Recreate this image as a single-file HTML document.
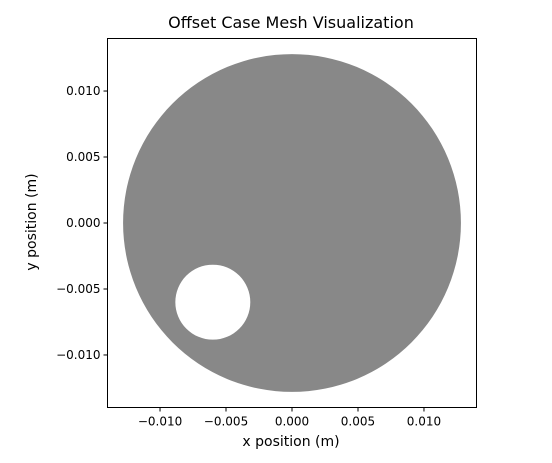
<!DOCTYPE html>
<html><head><meta charset="utf-8"><style>
body{margin:0;background:#fff;}
svg text{font-family:"DejaVu Sans","Liberation Sans",sans-serif;}
</style></head><body>
<svg id="chart" width="552" height="458" xmlns="http://www.w3.org/2000/svg">
<rect width="552" height="458" fill="#fff"/>
<text x="291" y="28" text-anchor="middle" font-size="16">Offset Case Mesh Visualization</text>
<g id="plot"></g>
<rect x="107.5" y="38.5" width="369" height="369" fill="none" stroke="#000" stroke-width="1"/>
<text x="291" y="446" text-anchor="middle" font-size="14">x position (m)</text>
<text x="0" y="0" transform="translate(36,222) rotate(-90)" text-anchor="middle" font-size="14">y position (m)</text>
</svg>
<script>
const xDomain=[-0.01398,0.01398];
const yDomain=[-0.01398,0.01398];
const xTicks=[-0.010,-0.005,0.000,0.005,0.010];
const yTicks=[-0.010,-0.005,0.000,0.005,0.010];
const xTickLabels=["\u22120.010","\u22120.005","0.000","0.005","0.010"];
const yTickLabels=["\u22120.010","\u22120.005","0.000","0.005","0.010"];
const outerCircle=[0,0,0.0128];
const holeCircle=[-0.006,-0.006,0.00284];
const L=107.5,R=476.5,T=38.5,B=407.5;
const sx=v=>L+(v-xDomain[0])/(xDomain[1]-xDomain[0])*(R-L);
const sy=v=>B-(v-yDomain[0])/(yDomain[1]-yDomain[0])*(B-T);
const NS="http://www.w3.org/2000/svg";
const svg=document.getElementById('chart');
const g=document.getElementById('plot');
function mk(t,a,p){const e=document.createElementNS(NS,t);for(const k in a)e.setAttribute(k,a[k]);(p||g).appendChild(e);return e;}
const cx=sx(outerCircle[0]),cy=sy(outerCircle[1]),r=sx(outerCircle[2])-sx(0);
const hx=sx(holeCircle[0]),hy=sy(holeCircle[1]),hr=sx(holeCircle[2])-sx(0);
const d=`M${cx-r},${cy}a${r},${r} 0 1,0 ${2*r},0a${r},${r} 0 1,0 ${-2*r},0Z M${hx-hr},${hy}a${hr},${hr} 0 1,1 ${2*hr},0a${hr},${hr} 0 1,1 ${-2*hr},0Z`;
const mesh=mk('path',{d:d,fill:'#888888','fill-rule':'evenodd'});


xTicks.forEach((v,i)=>{
  const x=sx(v);
  const tk=mk('line',{x1:x,x2:x,y1:B,y2:B+4,stroke:'#000'},svg);
  
  
  const t=mk('text',{x:x,y:B+18,'text-anchor':'middle','font-size':'12'},svg);
  t.textContent=xTickLabels[i];
  
  
});
yTicks.forEach((v,i)=>{
  const y=sy(v);
  const tk=mk('line',{x1:L-4,x2:L,y1:y,y2:y,stroke:'#000'},svg);
  
  
  const t=mk('text',{x:L-7,y:y+4,'text-anchor':'end','font-size':'12'},svg);
  t.textContent=yTickLabels[i];
  
  
});
</script>
</body></html>
